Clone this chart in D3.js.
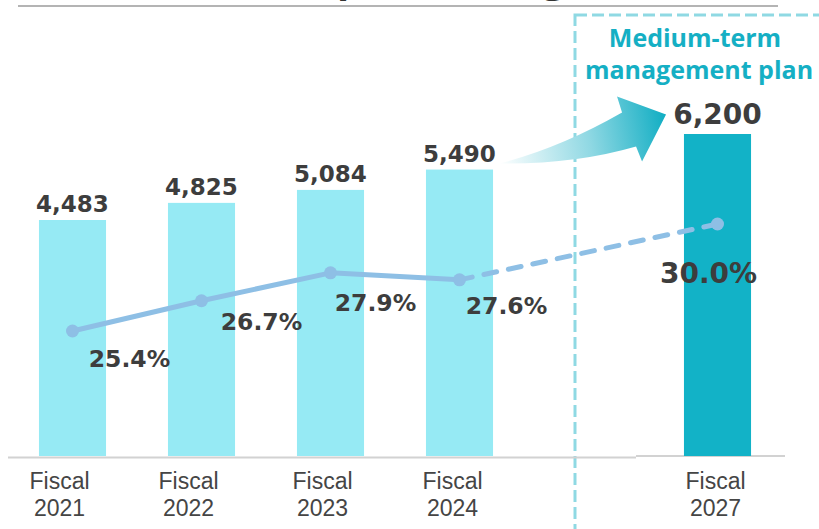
<!DOCTYPE html>
<html>
<head>
<meta charset="utf-8">
<script src="https://cdn.jsdelivr.net/npm/d3@7/dist/d3.min.js"></script>
<style>
  html, body { margin: 0; padding: 0; background: #ffffff; }
  svg { display: block; }
</style>
</head>
<body>
<svg id="chart" width="819" height="529"></svg>
<script>
// ---- data ----
const titleText = "Net sales and profit margin";
const years = ["2021", "2022", "2023", "2024", "2027"];
const yearLabels = ["Fiscal", "Fiscal", "Fiscal", "Fiscal", "Fiscal"];
const sales = [4483, 4825, 5084, 5490, 6200];
const salesLabels = ["4,483", "4,825", "5,084", "5,490", "6,200"];
const margins = [25.4, 26.7, 27.9, 27.6, 30.0];
const marginLabels = ["25.4%", "26.7%", "27.9%", "27.6%", "30.0%"];
const planYear = "2027";
const planTitle = ["Medium-term", "management plan"];

// ---- layout ----
const W = 819, H = 529;
const baseY = 456;
const gapSlot = "gap";                       // empty slot between results and the plan year
const slots = ["2021", "2022", "2023", "2024", gapSlot, "2027"];

const colors = {
  bar: "#96eaf4",
  planBar: "#12b2c7",
  line: "#8ebfe5",
  text: "#3d3d3d",
  axisText: "#454545",
  plan: "#15afc4",
  box: "#8fd9e3",
  rule: "#b4b4b4",
  axis: "#d2d2d2"
};

const svg = d3.select("#chart");

const x = d3.scaleBand()
  .domain(slots)
  .range([8, 782])
  .paddingInner(0.48)
  .paddingOuter(0.24);

const y = d3.scaleLinear().domain([-228, 6200]).range([baseY, 134]);
const y2 = d3.scaleLinear().domain([25.4, 30.0]).range([331, 224]);

const cx = d => x(d) + x.bandwidth() / 2;

const rows = years.map((yr, i) => ({
  year: yr, label: yearLabels[i], sales: sales[i], salesLabel: salesLabels[i],
  margin: margins[i], marginLabel: marginLabels[i], plan: yr === planYear
}));

// ---- title (runs off the top edge) and rule under it ----
const title = svg.append("text")
  .attr("y", -8)
  .attr("font-family", "'Open Sans', sans-serif")
  .attr("font-weight", 700)
  .attr("font-size", 40)
  .attr("fill", "#333333")
  .text(titleText);
// put the "p" of the title over x = 337
const pIdx = titleText.indexOf("p");
const pPos = title.node().getSubStringLength(0, pIdx);
title.attr("x", 337 - pPos);

svg.append("line")
  .attr("x1", 18).attr("x2", 778)
  .attr("y1", 6).attr("y2", 6)
  .attr("stroke", colors.rule)
  .attr("stroke-width", 2);

// ---- dashed frame around the plan year ----
svg.append("rect")
  .attr("x", 575).attr("y", 15)
  .attr("width", 400).attr("height", 600)
  .attr("fill", "none")
  .attr("stroke", colors.box)
  .attr("stroke-width", 3)
  .attr("stroke-dasharray", "12,5");

// ---- baseline ----
svg.append("line")
  .attr("x1", 8).attr("x2", 636)
  .attr("y1", baseY + 1.5).attr("y2", baseY + 1.5)
  .attr("stroke", colors.axis).attr("stroke-width", 2);
svg.append("line")
  .attr("x1", 636).attr("x2", 785)
  .attr("y1", baseY).attr("y2", baseY)
  .attr("stroke", colors.axis).attr("stroke-width", 2);

// ---- bars ----
svg.selectAll("rect.bar")
  .data(rows)
  .join("rect")
  .attr("class", "bar")
  .attr("x", d => x(d.year))
  .attr("width", x.bandwidth())
  .attr("y", d => y(d.sales))
  .attr("height", d => baseY - y(d.sales))
  .attr("fill", d => d.plan ? colors.planBar : colors.bar);

// ---- bar value labels ----
svg.selectAll("text.val")
  .data(rows)
  .join("text")
  .attr("class", "val")
  .attr("x", d => cx(d.year))
  .attr("y", d => y(d.sales) - (d.plan ? 10 : 8))
  .attr("text-anchor", "middle")
  .attr("font-family", "'DejaVu Sans', sans-serif")
  .attr("font-weight", 700)
  .attr("font-size", d => d.plan ? 28 : 23)
  .attr("fill", colors.text)
  .text(d => d.salesLabel);

// ---- growth arrow from the latest result to the plan ----
const grad = svg.append("defs").append("linearGradient")
  .attr("id", "arrowGrad")
  .attr("gradientUnits", "userSpaceOnUse");
const last = rows[3];
const tx = x(last.year) + x.bandwidth() + 6;
const ty = y(last.sales) - 6;
grad.attr("x1", tx).attr("y1", ty).attr("x2", tx + 167).attr("y2", ty - 30);
grad.append("stop").attr("offset", 0).attr("stop-color", "#ffffff");
grad.append("stop").attr("offset", 0.55).attr("stop-color", "#8fd8e3");
grad.append("stop").attr("offset", 1).attr("stop-color", colors.plan);

const ap = d3.path();
ap.moveTo(tx, ty);
ap.quadraticCurveTo(tx + 60, ty - 15, tx + 123, ty - 51);
ap.lineTo(tx + 118, ty - 67);
ap.lineTo(tx + 167, ty - 49);
ap.lineTo(tx + 143, ty - 2);
ap.lineTo(tx + 137, ty - 17);
ap.quadraticCurveTo(tx + 75, ty + 1, tx, ty);
ap.closePath();
svg.append("path").attr("d", ap.toString()).attr("fill", "url(#arrowGrad)");

// ---- margin line: solid for results, dashed toward the plan ----
const pts = rows.map(d => [cx(d.year), y2(d.margin)]);
const lineGen = d3.line();
svg.append("path")
  .attr("d", lineGen(pts.slice(0, 4)))
  .attr("fill", "none")
  .attr("stroke", colors.line)
  .attr("stroke-width", 5)
  .attr("stroke-linejoin", "round");
svg.append("path")
  .attr("d", lineGen(pts.slice(3)))
  .attr("fill", "none")
  .attr("stroke", colors.line)
  .attr("stroke-width", 5)
  .attr("stroke-linecap", "round")
  .attr("stroke-dasharray", "13,12");
svg.selectAll("circle.pt")
  .data(pts)
  .join("circle")
  .attr("class", "pt")
  .attr("cx", d => d[0]).attr("cy", d => d[1])
  .attr("r", 6.5)
  .attr("fill", colors.line);

// ---- margin labels ----
const marginOffsets = [[57, 36], [60, 29], [45, 38], [47, 34], [-9, 59]];
svg.selectAll("text.pct")
  .data(rows)
  .join("text")
  .attr("class", "pct")
  .attr("x", (d, i) => cx(d.year) + marginOffsets[i][0])
  .attr("y", (d, i) => y2(d.margin) + marginOffsets[i][1])
  .attr("text-anchor", "middle")
  .attr("font-family", "'DejaVu Sans', sans-serif")
  .attr("font-weight", 700)
  .attr("font-size", d => d.plan ? 28 : 23.5)
  .attr("fill", colors.text)
  .text(d => d.marginLabel);

// ---- plan caption ----
svg.selectAll("text.plan")
  .data(planTitle)
  .join("text")
  .attr("class", "plan")
  .attr("x", (d, i) => i === 0 ? 695 : 699)
  .attr("y", (d, i) => i === 0 ? 47 : 79)
  .attr("text-anchor", "middle")
  .attr("font-family", "'Open Sans', sans-serif")
  .attr("font-weight", 700)
  .attr("font-size", 25)
  .attr("fill", colors.plan)
  .text(d => d);

// ---- category labels (two lines each) ----
const labelShift = [-13, -13, -8, -7, -2];
const catText = (cls, baseline, fn) => svg.selectAll("text." + cls)
  .data(rows)
  .join("text")
  .attr("class", cls)
  .attr("x", (d, i) => cx(d.year) + labelShift[i])
  .attr("y", baseline)
  .attr("text-anchor", "middle")
  .attr("font-family", "'Liberation Sans', Arial, sans-serif")
  .attr("font-size", 23)
  .attr("fill", colors.axisText)
  .text(fn);
catText("cat1", 489, d => d.label);
catText("cat2", 516, d => d.year);
</script>
</body>
</html>
